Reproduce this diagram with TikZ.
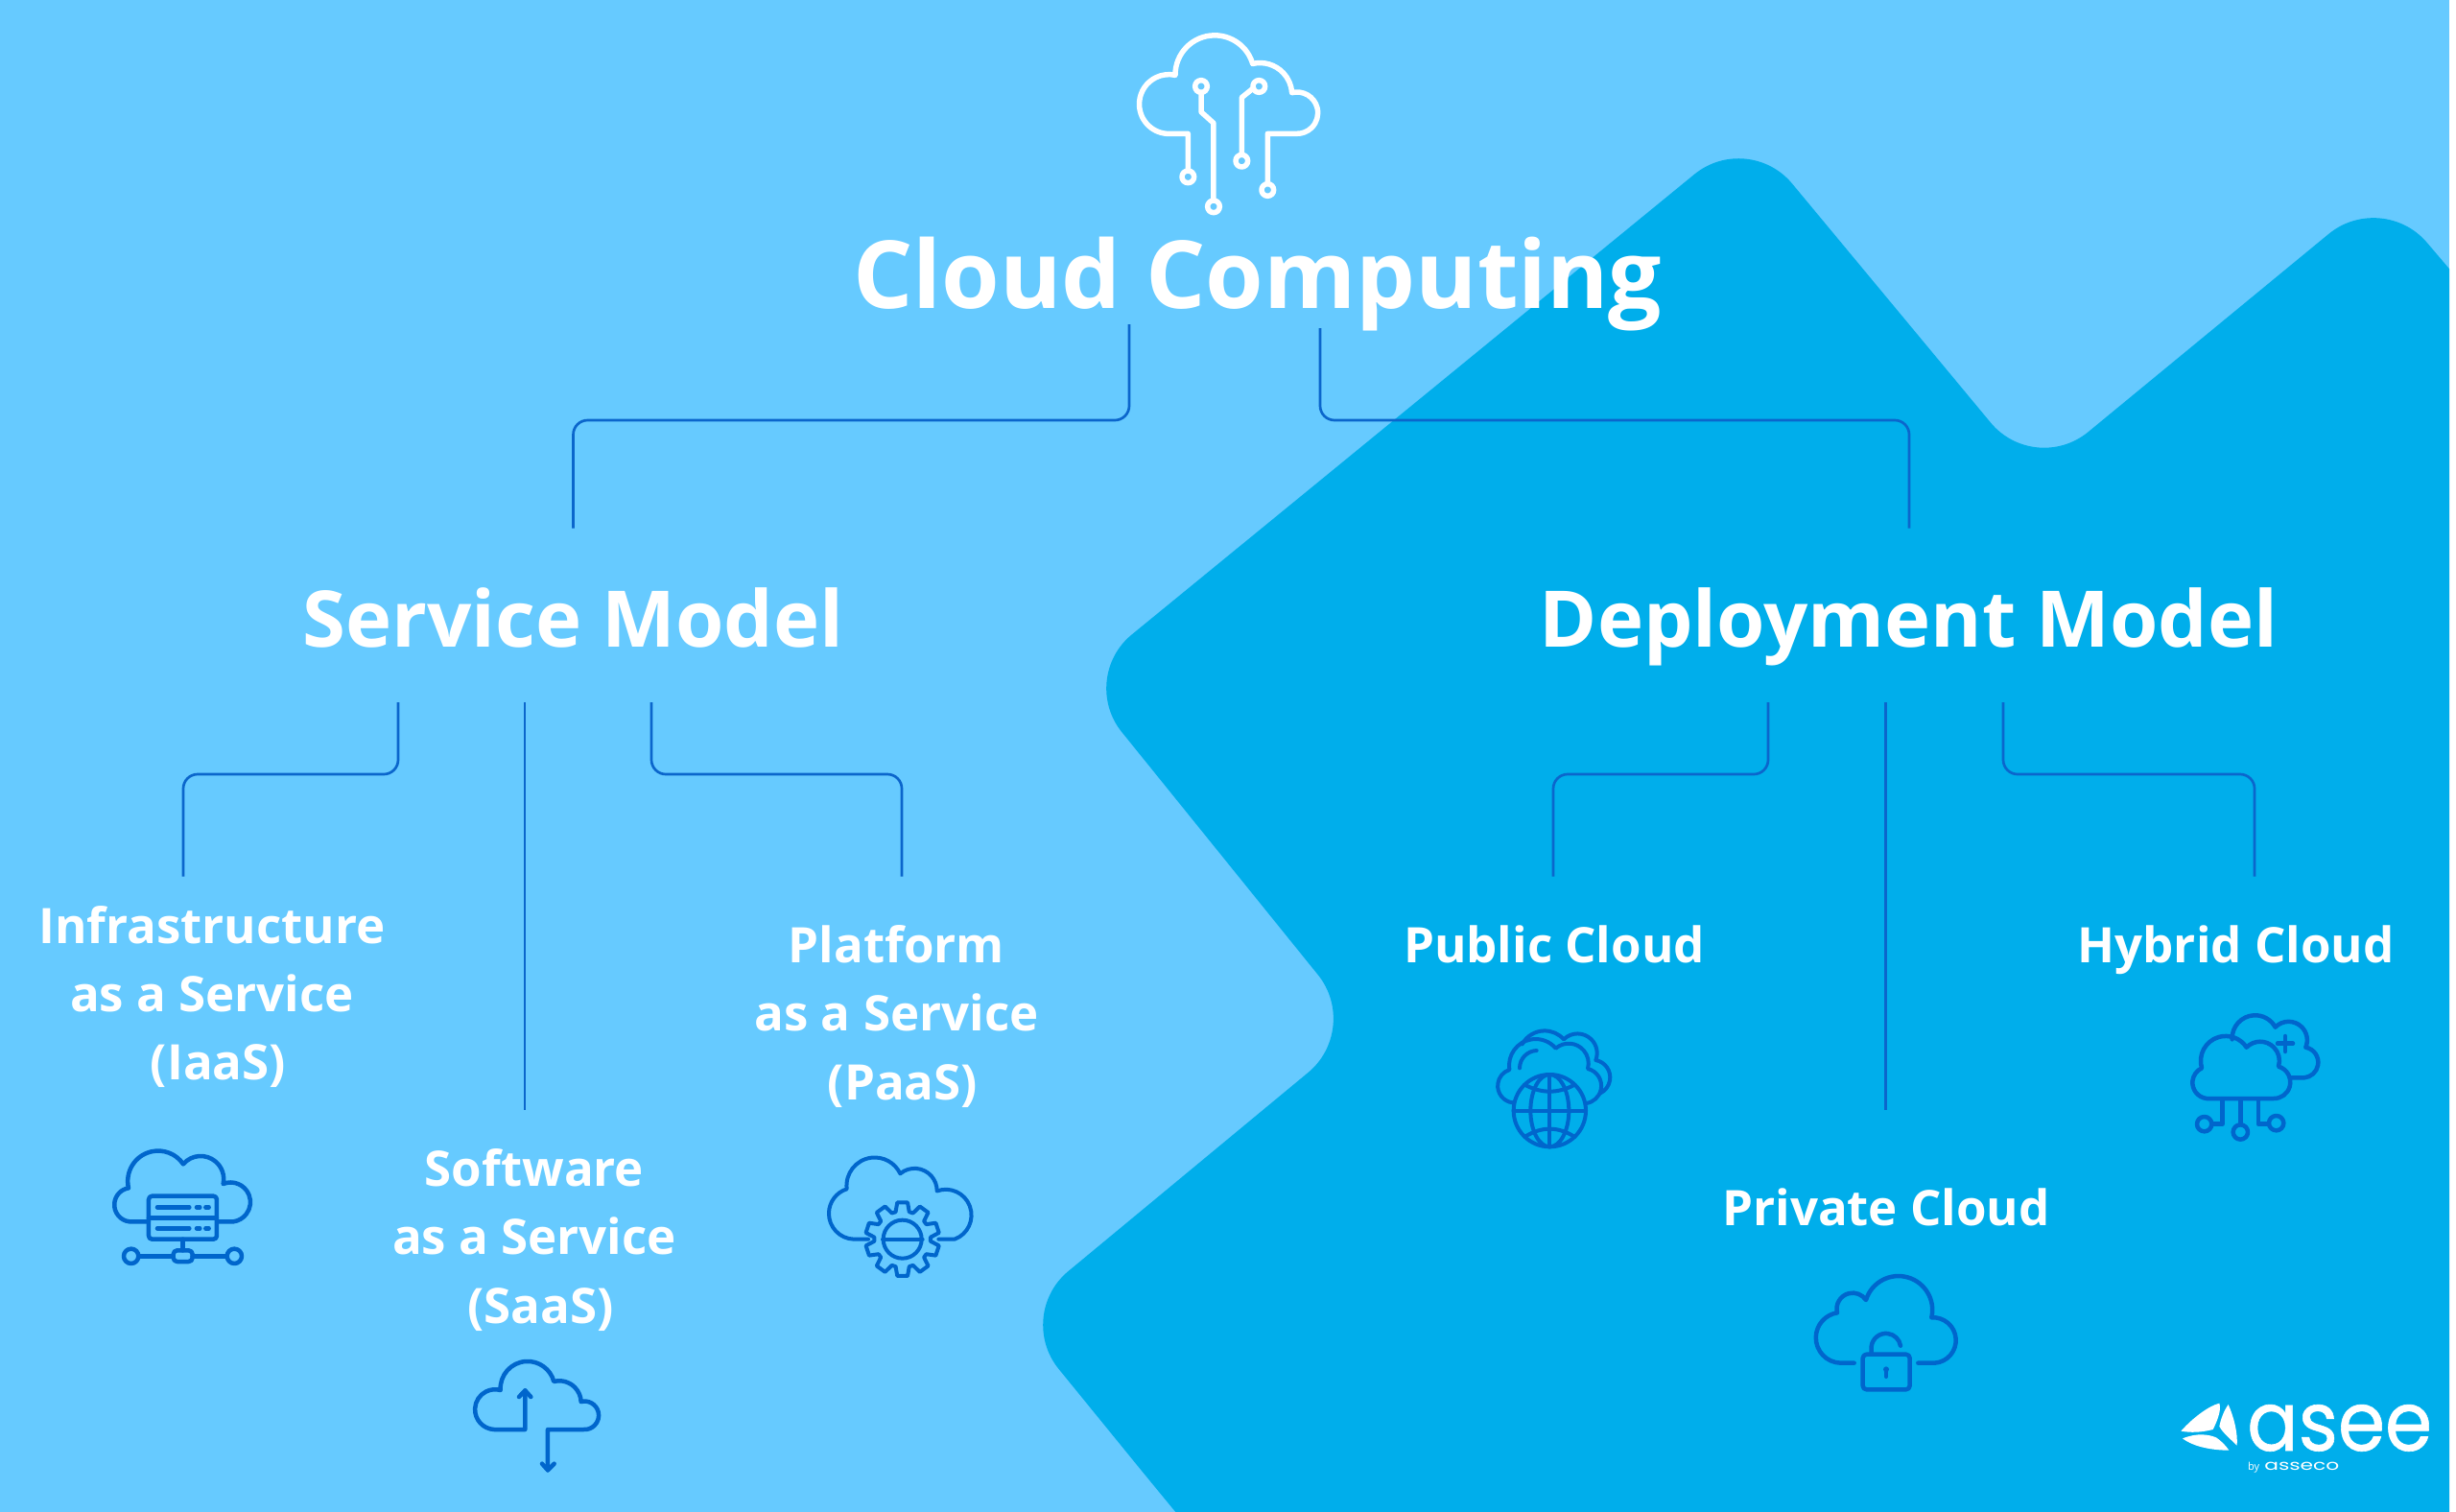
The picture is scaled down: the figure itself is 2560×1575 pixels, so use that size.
\documentclass[tikz,border=0pt]{standalone}
\usepackage{fontspec}
\setmainfont{Open Sans}
\newfontfamily\logofont[FakeBold=0.7]{Poppins}
\newfontfamily\logosmall{Poppins}
\usetikzlibrary{svg.path,calc}
\definecolor{lightbg}{HTML}{66CAFF}
\definecolor{darkbg}{HTML}{00AEEB}
\definecolor{wire}{HTML}{0B66CC}
\definecolor{iconblue}{HTML}{0066CC}
\tikzset{
  wirepath/.style={draw=wire,line width=2.7pt,rounded corners=15pt},
  title/.style={text=white,anchor=base,font=\fontsize{98}{110}\selectfont\bfseries,inner sep=0pt},
  heading/.style={text=white,anchor=base,font=\fontsize{81.4}{90}\selectfont\bfseries,inner sep=0pt},
  label/.style={text=white,anchor=base,align=center,font=\fontsize{51}{71.3}\selectfont\bfseries,inner sep=0pt},
  icon/.style={draw=iconblue,line width=#1,line cap=round,line join=round},
  icon/.default=4.5pt,
  mainicon/.style={draw=white,line width=5.5pt,line cap=round,line join=round},
  logoblade/.style={fill=white,draw=none}
}
\begin{document}
\begin{tikzpicture}[x=1pt,y=1pt,yscale=-1]
\useasboundingbox (0,0) rectangle (2560,1575);
\fill[white] (0,0) rectangle (2600,1600);
\fill[lightbg] (0,0) rectangle (2553,1600);
% dark background shape
\begin{scope}
\clip (0,0) rectangle (2553,1600);
\fill[darkbg,rounded corners=72pt] (1225,1576) -- (1058,1371) -- (1419,1072) -- (1124,707) -- (1822,136) -- (2121,496) -- (2483,198) -- (2632,373) -- (2632,1650) -- (1287,1650) -- cycle;
\end{scope}
% top icon
\begin{scope}[shift={(1130,0)},scale=0.3333]
\draw[mainicon] svg "M 325 535 L 325 418 L 258 418 A 92.7 92.7 0 1 1 285 235 A 123.5 123.5 0 0 1 527 198 A 100 100 0 0 1 650 290 A 65 65 0 1 1 665 418 L 574 418 L 574 575";
\draw[mainicon] (325,553) circle[radius=19];
\draw[mainicon] (574,594) circle[radius=19];
\draw[mainicon] (405,646) circle[radius=19];
\draw[mainicon] (366,270) circle[radius=19];
\draw[mainicon] (493,503) circle[radius=19];
\draw[mainicon] (547,270) circle[radius=19];
\draw[mainicon] (405,627) -- (405,385) -- (366,350) -- (366,289);
\draw[mainicon] (493,484) -- (493,305) -- (530,275);
\end{scope}
% titles
\node[title] (cc) at (1311,321) {Cloud Computing};
\node[heading] (sm) at (597.5,674) {Service Model};
\node[heading] (dm) at (1989.5,674) {Deployment Model};
\node[label] (iaas) at (221,1125.6) {Infrastructure\\as a Service\\\hspace*{13pt}(IaaS)};
\node[label] (saas) at (557,1379) {Software\\as a Service\\\hspace*{13pt}(SaaS)};
\node[label] (paas) at (934.5,1146) {Platform\\as a Service\\\hspace*{13pt}(PaaS)};
\node[label] (pub) at (1620,1003.5) {Public Cloud};
\node[label] (pri) at (1966,1277) {Private Cloud};
\node[label] (hyb) at (2330.5,1003.5) {Hybrid Cloud};
% connector ends
\coordinate (ccl) at (1177,338);
\coordinate (ccr) at (1376,342);
\coordinate (smt) at (597.5,550.5);
\coordinate (smk) at (597.5,438);
\coordinate (dmt) at (1990,550.5);
\coordinate (dmk) at (1990,438);
\coordinate (sm1) at (415,732);
\coordinate (sm2) at (547,732);
\coordinate (sm3) at (679,732);
\coordinate (dm1) at (1843,732);
\coordinate (dm2) at (1965.5,732);
\coordinate (dm3) at (2088,732);
\coordinate (iaast) at (191,913.5);
\coordinate (iaask) at (191,807);
\coordinate (saast) at (547,1156.5);
\coordinate (paast) at (940,913.5);
\coordinate (paask) at (940,807);
\coordinate (pubt) at (1619,913.5);
\coordinate (pubk) at (1619,807);
\coordinate (prit) at (1965.5,1156.5);
\coordinate (hybt) at (2350,913.5);
\coordinate (hybk) at (2350,807);
\draw[wirepath] (ccl) |- (smk) -- (smt);
\draw[wirepath] (ccr) |- (dmk) -- (dmt);
\draw[wirepath] (sm1) |- (iaask) -- (iaast);
\draw[wirepath] (sm2) -- (saast);
\draw[wirepath] (sm3) |- (paask) -- (paast);
\draw[wirepath] (dm1) |- (pubk) -- (pubt);
\draw[wirepath] (dm2) -- (prit);
\draw[wirepath] (dm3) |- (hybk) -- (hybt);
% IaaS icon
\begin{scope}[shift={(90,1170)},scale=0.3333,every path/.style={icon}]
\draw svg "M 195 310 L 135 310 A 53 53 0 0 1 132 205 A 95 95 0 0 1 303 130 A 72 72 0 0 1 428 192 A 61.6 61.6 0 1 1 460 310 L 410 310";
\draw[rounded corners=3.5pt] (195,230) rectangle (408,365);
\draw (195,298) -- (408,298);
\draw (222,265) -- (322,265) (345,265) -- (355,265) (373,265) -- (383,265);
\draw (222,331) -- (322,331) (345,331) -- (355,331) (373,331) -- (383,331);
\draw (302,365) -- (302,400);
\draw[rounded corners=4pt] (272,400) rectangle (332,435);
\draw (165,418) -- (272,418) (332,418) -- (438,418);
\draw (140,418) circle[radius=23];
\draw (463,418) circle[radius=23];
\end{scope}
% SaaS icon
\begin{scope}[shift={(470,1400)},scale=0.3333,every path/.style={icon}]
\draw svg "M 232 148 L 232 270 L 135 270 A 62.7 62.7 0 1 1 155 147 A 85 85 0 0 1 322 120 A 68 68 0 0 1 407 183 A 44.2 44.2 0 1 1 415 270 L 303 270 L 303 397";
\draw (213,168) -- (232,148) -- (250,168);
\draw (285,377) -- (303,397) -- (323,377);
\end{scope}
% PaaS icon
\begin{scope}[shift={(840,1190)},scale=0.3333,every path/.style={icon=4pt}]
\draw svg "M 195 305 L 150 305 A 80.4 80.4 0 0 1 128 148 A 88 88 0 0 1 295 100 A 70 70 0 0 1 410 155 A 80 80 0 1 1 465 305 L 415 305";
\draw (302,305) circle[radius=60];
\draw (240,305) -- (365,305);
\draw[shift={(302,305)}] (76:88) \foreach \a in {90,126,...,414} { -- (\a-14:88) -- (\a-8:116) -- (\a+8:116) -- (\a+14:88) } -- cycle;
\end{scope}
% Public cloud icon
\begin{scope}[shift={(1540,1060)},scale=0.3333,every path/.style={icon=4pt}]
\draw svg "M 110 268 A 53 53 0 0 1 100 165 A 83 83 0 0 1 245 98 A 62 62 0 0 1 345 162 A 55 55 0 0 1 340 270";
\draw svg "M 140 85 A 80 80 0 0 1 270 70 A 61 61 0 0 1 370 135 A 55 55 0 0 1 385 238";
\draw svg "M 132 160 A 55 55 0 0 1 185 105";
\draw (226,293) circle[radius=113];
\draw (226,293) ellipse[x radius=60,y radius=113];
\draw (226,180) -- (226,406);
\draw (113,293) -- (339,293);
\draw svg "M 148 212 Q 226 254 304 212";
\draw svg "M 148 375 Q 226 325 304 375";
\end{scope}
% Private cloud icon
\begin{scope}[shift={(1880,1320)},scale=0.3333,every path/.style={icon}]
\draw svg "M 158 302 L 115 302 A 79 79 0 0 1 105 145 A 50 50 0 0 1 195 105 A 106.2 106.2 0 0 1 400 160 A 71.1 71.1 0 1 1 410 302 L 358 302";
\draw[rounded corners=4pt] (185,275) rectangle (332,385);
\draw svg "M 212 275 L 212 250 A 46 46 0 0 1 303 248";
\fill[iconblue,draw=none] (258,322) circle[radius=9];
\draw[line width=4pt] (258,322) -- (258,345);
\end{scope}
% Hybrid cloud icon
\begin{scope}[shift={(2270,1050)},scale=0.3333,every path/.style={icon}]
\draw svg "M 90 285 A 50 50 0 0 1 75 190 A 78 78 0 0 1 215 125 A 60 60 0 0 1 315 185 A 51 51 0 0 1 300 285 Z";
\draw svg "M 170 100 A 72 72 0 0 1 305 62 A 58 58 0 0 1 400 125 A 48 48 0 0 1 395 220 L 350 220";
\draw (312,113) -- (360,113) (336,90) -- (336,138);
\draw (140,290) -- (140,365) -- (108,365);
\draw (196,290) -- (196,366);
\draw (252,290) -- (252,365) -- (284,365);
\draw (83,365) circle[radius=23];
\draw (196,390) circle[radius=23];
\draw (308,362) circle[radius=23];
\end{scope}
% logo
\begin{scope}[shift={(2260,1440)},scale=0.3333]
\fill[logoblade] svg "M 40 155 C 80 110 130 75 160 68 C 168 90 150 130 140 150 C 100 160 70 160 40 155 Z";
\fill[logoblade] svg "M 188 72 C 205 110 218 160 215 200 C 195 180 170 160 160 140 C 165 115 175 90 188 72 Z";
\fill[logoblade] svg "M 45 178 C 90 160 125 165 150 175 C 165 185 180 200 190 215 C 140 215 80 205 45 178 Z";
\end{scope}
\node[text=white,inner sep=0pt,anchor=base west,font=\logofont\fontsize{86}{90}\selectfont,xscale=0.92] (logoname) at (2342,1512) {asee};
\node[text=white,inner sep=0pt,anchor=base west,font=\fontsize{11}{12}\selectfont] (logoby) at (2343,1532) {by};
\node[text=white,inner sep=0pt,anchor=base west,font=\logosmall\fontsize{15}{16}\selectfont,xscale=1.45] (logoco) at (2360,1532) {asseco};
\end{tikzpicture}
\end{document}
